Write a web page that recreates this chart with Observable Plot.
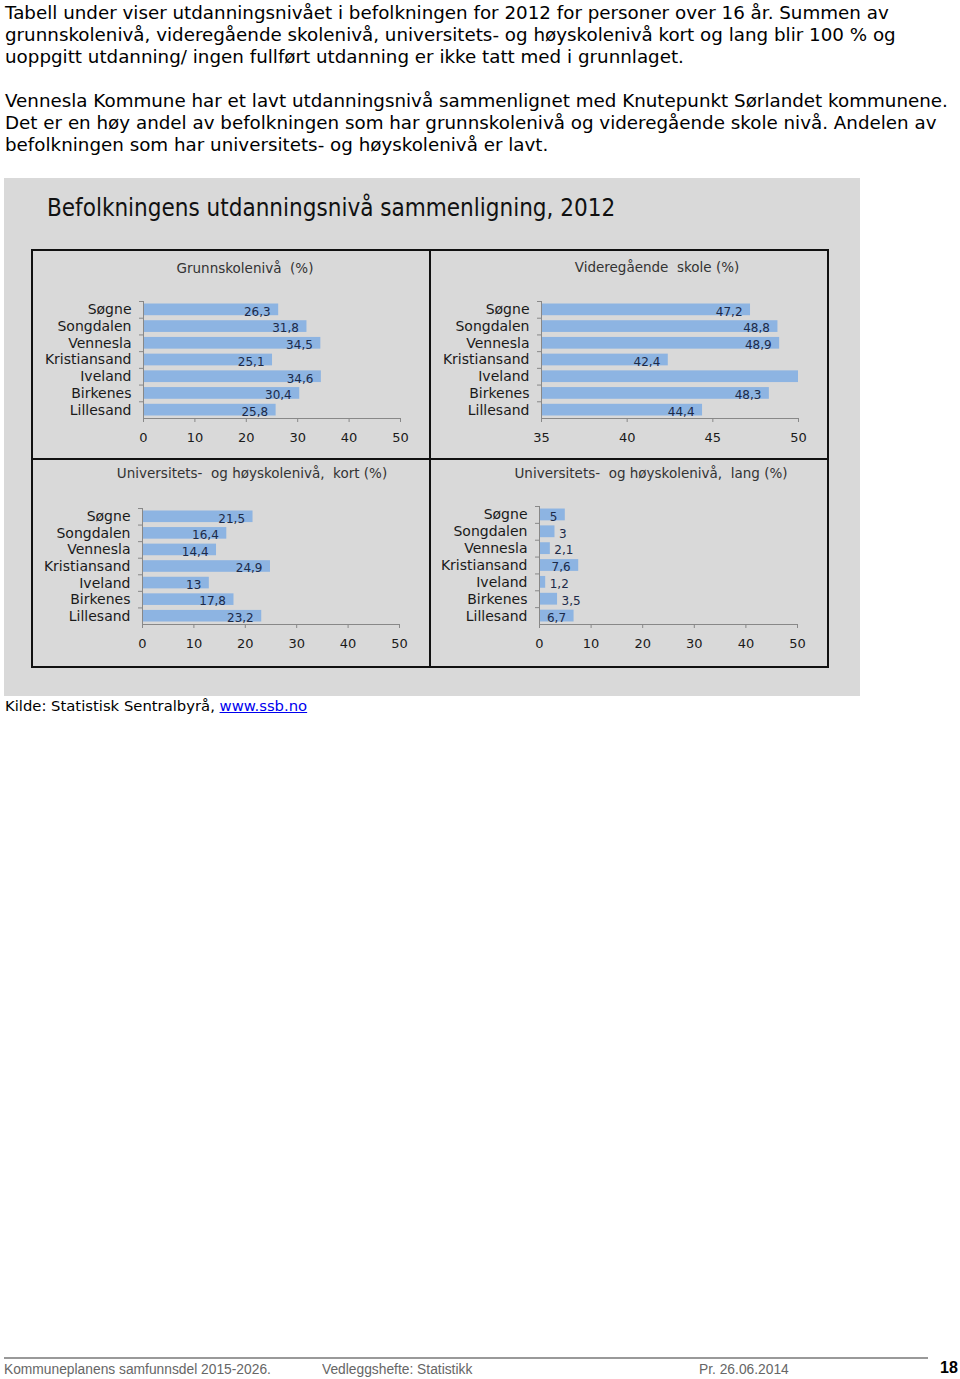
<!DOCTYPE html>
<html><head><meta charset="utf-8">
<script src="https://cdn.jsdelivr.net/npm/d3@7"></script>
<script src="https://cdn.jsdelivr.net/npm/@observablehq/plot@0.6"></script>
<style>
body{margin:0;width:960px;height:1379px;position:relative;background:#fff;font-family:"DejaVu Sans",Verdana,sans-serif;color:#000;overflow:hidden}
.abs{position:absolute;white-space:nowrap}
#intro{left:5px;top:2px;font-size:18.3px;line-height:22px}
#chartbg{left:4px;top:178px;width:856px;height:518px;background:#d9d9d9}
#ctitle{left:47px;top:193px;font-size:24px;line-height:30px;color:#111;font-stretch:condensed}
#grid{left:31px;top:249px;width:794px;height:415px;border:2px solid #111}
.vline{left:429px;top:249px;width:2px;height:419px;background:#111}
.hline{left:31px;top:458px;width:798px;height:2px;background:#111}
.ptitle{font-size:13.5px;color:#333;width:400px;text-align:center;line-height:16px;white-space:pre}
.panel{position:absolute}
#kilde{left:5px;top:696px;font-size:14.8px;line-height:20px}
#kilde a{color:#0000ee}
#fline{left:4px;top:1357px;width:924px;height:2px;background:#999}
.foot{top:1360px;font-family:"Liberation Sans",Arial,sans-serif;font-size:15.5px;color:#666;line-height:18px;transform:scaleX(0.89);transform-origin:0 0}
</style></head><body>
<div id="intro" class="abs">Tabell under viser utdanningsnivået i befolkningen for 2012 for personer over 16 år. Summen av<br>grunnskolenivå, videregående skolenivå, universitets- og høyskolenivå kort og lang blir 100 % og<br>uoppgitt utdanning/ ingen fullført utdanning er ikke tatt med i grunnlaget.<br><br>Vennesla Kommune har et lavt utdanningsnivå sammenlignet med Knutepunkt Sørlandet kommunene.<br>Det er en høy andel av befolkningen som har grunnskolenivå og videregående skole nivå. Andelen av<br>befolkningen som har universitets- og høyskolenivå er lavt.</div>
<div id="chartbg" class="abs"></div>
<div id="ctitle" class="abs">Befolkningens utdanningsnivå sammenligning, 2012</div>
<div id="grid" class="abs"></div>
<div class="abs vline"></div>
<div class="abs hline"></div>
<div id="panels"></div>
<div id="kilde" class="abs">Kilde: Statistisk Sentralbyrå, <a href="#">www.ssb.no</a></div>
<div id="fline" class="abs"></div>
<div class="abs foot" style="left:4px">Kommuneplanens samfunnsdel 2015-2026.</div>
<div class="abs foot" style="left:322px">Vedleggshefte: Statistikk</div>
<div class="abs foot" style="left:699px">Pr. 26.06.2014</div>
<div class="abs" style="left:940px;top:1359px;color:#000;font-weight:bold;font-family:'Liberation Sans',Arial,sans-serif;font-size:16px;line-height:18px">18</div>
<script>
const kommuner = ["Søgne","Songdalen","Vennesla","Kristiansand","Iveland","Birkenes","Lillesand"];
const grunnskole = [26.3, 31.8, 34.5, 25.1, 34.6, 30.4, 25.8];
const videregaende = [47.2, 48.8, 48.9, 42.4, 51.2, 48.3, 44.4];
const uniKort = [21.5, 16.4, 14.4, 24.9, 13, 17.8, 23.2];
const uniLang = [5, 3, 2.1, 7.6, 1.2, 3.5, 6.7];
const titles = ["Grunnskolenivå  (%)", "Videregående  skole (%)", "Universitets-  og høyskolenivå,  kort (%)", "Universitets-  og høyskolenivå,  lang (%)"];
const domains = [[0, 50], [35, 50], [0, 50], [0, 50]];
const tickValues = [[0, 10, 20, 30, 40, 50], [35, 40, 45, 50], [0, 10, 20, 30, 40, 50], [0, 10, 20, 30, 40, 50]];

const fmt = v => String(v).replace(".", ",");
const FONT = "'DejaVu Sans', Verdana, sans-serif";

function panel(values, domain, ticks, L) {
  const data = kommuner.map((k, i) => ({k, v: values[i]}));
  const step = (L.h - L.mt - L.mb) / kommuner.length;
  const fw = L.w - L.ml - L.mr;
  const shown = data.filter(d => d.v <= domain[1]);
  return Plot.plot({
    width: L.w, height: L.h,
    marginTop: L.mt, marginBottom: L.mb, marginLeft: L.ml, marginRight: L.mr,
    style: {background: "transparent", fontFamily: FONT, fontSize: "13px", color: "#1a1a1a", overflow: "visible"},
    x: {domain, label: null},
    y: {domain: kommuner, label: null, paddingInner: 0.3, paddingOuter: 0.15, round: false},
    marks: [
      Plot.barX(data, {x1: domain[0], x2: "v", y: "k", fill: "#8db4e2", clip: true}),
      Plot.ruleY(kommuner, {y: d => d, dy: -step / 2, stroke: "#888", insetLeft: -4, insetRight: fw}),
      Plot.ruleX([domain[0]], {stroke: "#888"}),
      Plot.frame({anchor: "bottom", stroke: "#888"}),
      Plot.axisX({ticks, tickSize: 4, tickPadding: 10, stroke: "#888", fill: "#1a1a1a", fontSize: 13, label: null}),
      Plot.axisY({tickSize: 0, tickPadding: 12, fontSize: 14, fill: "#1a1a1a", label: null}),
      Plot.text(shown.filter(d => d.v >= 4), {x: "v", y: "k", text: d => fmt(d.v), textAnchor: "end", dx: -8, dy: 2, fill: "#1c2a48", fontSize: 12}),
      Plot.text(shown.filter(d => d.v < 4), {x: "v", y: "k", text: d => fmt(d.v), textAnchor: "start", dx: 4, dy: 2, fill: "#1c2a48", fontSize: 12})
    ]
  });
}

const layouts = [
  {left: 33, top: 251, w: 396, h: 207, ml: 110, mr: 29, mt: 50, mb: 40, tx: 245, ty: 260},
  {left: 431, top: 251, w: 396, h: 207, ml: 110, mr: 29, mt: 50, mb: 40, tx: 657, ty: 259},
  {left: 33, top: 460, w: 396, h: 206, ml: 109, mr: 30, mt: 48, mb: 42, tx: 252, ty: 465},
  {left: 431, top: 460, w: 396, h: 206, ml: 108, mr: 30, mt: 46, mb: 42, tx: 651, ty: 465}
];
const series = [grunnskole, videregaende, uniKort, uniLang];
const host = document.getElementById("panels");
layouts.forEach((L, i) => {
  const wrap = document.createElement("div");
  wrap.className = "panel";
  wrap.style.left = L.left + "px";
  wrap.style.top = L.top + "px";
  wrap.appendChild(panel(series[i], domains[i], tickValues[i], L));
  host.appendChild(wrap);
  const t = document.createElement("div");
  t.className = "abs ptitle";
  t.style.left = (L.tx - 200) + "px";
  t.style.top = L.ty + "px";
  t.textContent = titles[i];
  host.appendChild(t);
});
</script>
</body></html>
